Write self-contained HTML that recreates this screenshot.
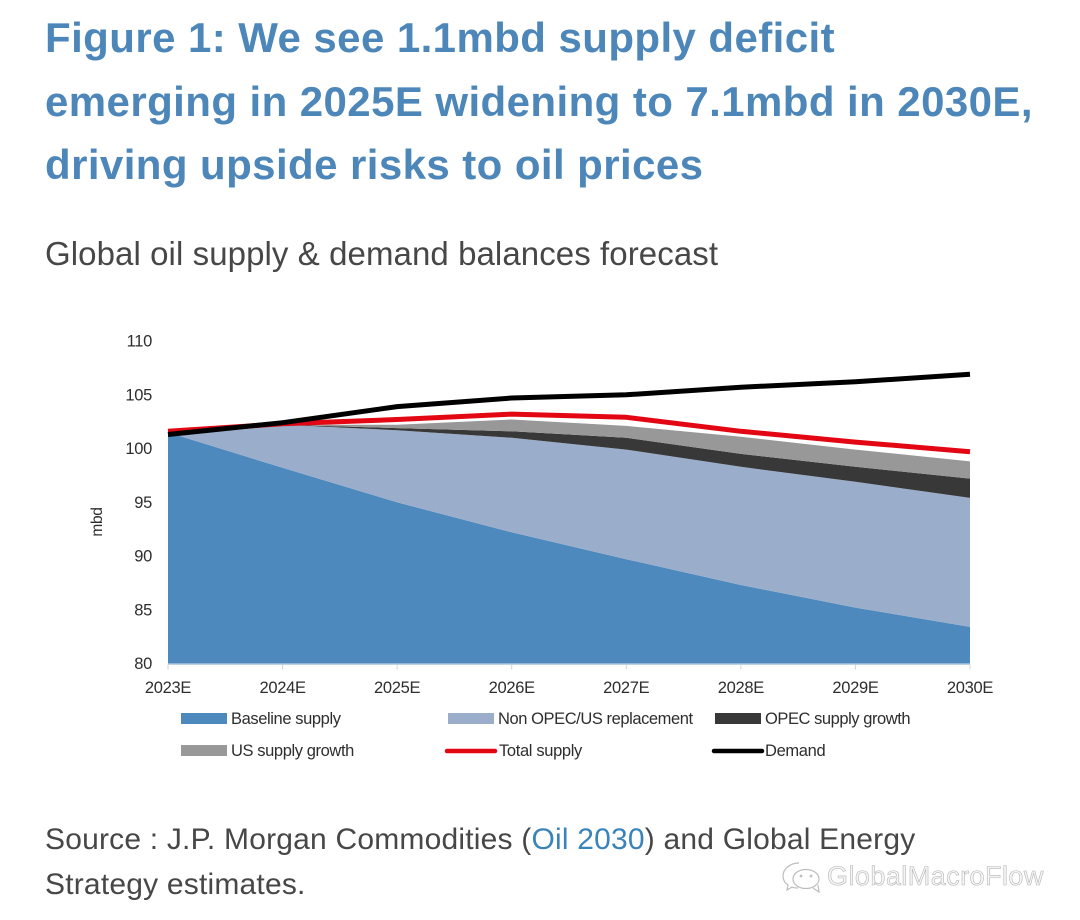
<!DOCTYPE html>
<html lang="en">
<head>
<meta charset="utf-8">
<title>Global oil supply and demand balances forecast</title>
<style>
html,body{margin:0;padding:0;background:#fff;}
#stage{position:relative;width:1080px;height:920px;overflow:hidden;background:#fff;font-family:"Liberation Sans",Arial,sans-serif;}
.t{position:absolute;white-space:nowrap;margin:0;}
.title{left:45px;font-size:42px;font-weight:bold;color:#4d86b8;letter-spacing:.42px;line-height:48px;}
.sub{left:45px;font-size:33px;color:#474747;letter-spacing:.08px;line-height:38px;font-weight:normal;}
.body{left:45px;font-size:30px;color:#474747;letter-spacing:.2px;line-height:38px;font-weight:normal;}
.body a{color:#3b84b9;text-decoration:none;}
svg{position:absolute;left:0;top:0;}
svg text{font-family:"Liberation Sans",Arial,sans-serif;fill:#2e2e2e;}
</style>
</head>
<body>
<div id="stage">
  <h1 class="t title" style="top:14px">Figure 1: We see 1.1mbd supply deficit</h1>
  <h1 class="t title" style="top:78px">emerging in 2025E widening to 7.1mbd in 2030E,</h1>
  <h1 class="t title" style="top:141px">driving upside risks to oil prices</h1>
  <h2 class="t sub" style="top:235px">Global oil supply &amp; demand balances forecast</h2>
  <svg id="chart" width="1080" height="920" viewBox="0 0 1080 920"></svg>
  <p class="t body" style="top:821px">Source : J.P. Morgan Commodities (<a href="#">Oil 2030</a>) and Global Energy</p>
  <p class="t body" style="top:866px">Strategy estimates.</p>
  <svg width="1080" height="920" viewBox="0 0 1080 920" style="pointer-events:none">
    <g fill="none" stroke="#bdbdbd" stroke-width="1.2">
      <path d="M799 863c-9 0-16 6-16 13 0 4 2 7 5 9l-1 5 5-3c2 1 4 1 6 1"/>
      <ellipse cx="806" cy="879" rx="13" ry="9.5"/>
      <path d="M813 888l6 4-1-7"/>
      <circle cx="801" cy="876" r=".8"/>
      <circle cx="811" cy="876" r=".8"/>
    </g>
    <text x="827" y="885" font-size="27" letter-spacing=".45" style="font-family:'Liberation Sans',Arial,sans-serif;fill:#f6f6f6;stroke:#b5b5b5;stroke-width:.6px">GlobalMacroFlow</text>
  </svg>
</div>
<script>
var categories = ['2023E','2024E','2025E','2026E','2027E','2028E','2029E','2030E'];
var yTicks = [80,85,90,95,100,105,110];
var baselineSupply = [101.5,98.2,95.0,92.2,89.7,87.3,85.2,83.4];
var nonOpecReplacement = [0,4.0,6.7,8.8,10.2,11.0,11.7,12.0];
var opecGrowth = [0,0,0.2,0.6,1.1,1.2,1.4,1.8];
var usGrowth = [0,0,0.3,1.1,1.1,1.6,1.6,1.6];
var totalSupply = [101.6,102.3,102.7,103.2,102.9,101.6,100.6,99.7];
var demand = [101.3,102.4,103.9,104.7,105.0,105.7,106.2,106.9];

var NS = 'http://www.w3.org/2000/svg';
var svg = document.getElementById('chart');
var X0 = 168, X1 = 970, Y80 = 663.5, Y110 = 341;
function xScale(i){ return X0 + (X1 - X0) * i / (categories.length - 1); }
function yScale(v){ return Y80 - (v - 80) * (Y80 - Y110) / 30; }
function mk(tag, attrs, parent){
  var el = document.createElementNS(NS, tag);
  for (var k in attrs) el.setAttribute(k, attrs[k]);
  (parent || svg).appendChild(el);
  return el;
}
function linePts(vals){
  return vals.map(function(v,i){ return xScale(i).toFixed(1) + ',' + yScale(v).toFixed(1); });
}
function cumulate(a,b){ return a.map(function(v,i){ return v + b[i]; }); }

var lvl1 = baselineSupply;
var lvl2 = cumulate(lvl1, nonOpecReplacement);
var lvl3 = cumulate(lvl2, opecGrowth);
var lvl4 = cumulate(lvl3, usGrowth);
function band(lower, upper){
  return linePts(upper).concat(linePts(lower).reverse()).join(' ');
}
var floorVals = categories.map(function(){ return 80; });

var a1 = mk('polygon',{points:band(floorVals,lvl1),fill:'#4e89bd'});


var a2 = mk('polygon',{points:band(lvl1,lvl2),fill:'#9aaecb'});


var a3 = mk('polygon',{points:band(lvl2,lvl3),fill:'#383838'});


var a4 = mk('polygon',{points:band(lvl3,lvl4),fill:'#989898'});



var axis = mk('line',{x1:X0,x2:X1,y1:Y80+.5,y2:Y80+.5,stroke:'#a9c3dc','stroke-width':1.5});



var totalLine = mk('polyline',{points:linePts(totalSupply).join(' '),fill:'none',stroke:'#e30613','stroke-width':5,'stroke-linejoin':'round'});


var demandLine = mk('polyline',{points:linePts(demand).join(' '),fill:'none',stroke:'#000','stroke-width':5,'stroke-linejoin':'round'});



categories.forEach(function(c,i){
  var tick = mk('line',{x1:xScale(i),x2:xScale(i),y1:Y80+1,y2:Y80+6,stroke:'#d4d4d4','stroke-width':1});
  
  
  var lb = mk('text',{x:xScale(i),y:693,'font-size':16.5,'text-anchor':'middle','letter-spacing':'-.3'});
  lb.textContent = c;
  
  
});
yTicks.forEach(function(v){
  var lb = mk('text',{x:152,y:yScale(v)+5.5,'font-size':16.5,'text-anchor':'end','letter-spacing':'-.3'});
  lb.textContent = v;
  
  
});
var yTitle = mk('text',{transform:'translate(102 522) rotate(-90)','font-size':15.5,'text-anchor':'middle','letter-spacing':'-.3'});
yTitle.textContent = 'mbd';



var legendG = mk('g',{});



var s1 = mk('rect',{x:181,y:713,width:46,height:11,fill:'#4e89bd'},legendG);


var t1 = mk('text',{x:231,y:724,'font-size':16.5,'letter-spacing':'-.4'},legendG);
t1.textContent = 'Baseline supply';



var s2 = mk('rect',{x:448,y:713,width:46,height:11,fill:'#9aaecb'},legendG);


var t2 = mk('text',{x:498,y:724,'font-size':16.5,'letter-spacing':'-.43'},legendG);
t2.textContent = 'Non OPEC/US replacement';



var s3 = mk('rect',{x:715,y:713,width:46,height:11,fill:'#383838'},legendG);


var t3 = mk('text',{x:765,y:724,'font-size':16.5,'letter-spacing':'-.45'},legendG);
t3.textContent = 'OPEC supply growth';



var s4 = mk('rect',{x:181,y:745,width:46,height:11,fill:'#989898'},legendG);


var t4 = mk('text',{x:231,y:756,'font-size':16.5,'letter-spacing':'-.4'},legendG);
t4.textContent = 'US supply growth';



var s5 = mk('line',{x1:447,x2:495,y1:751,y2:751,stroke:'#e30613','stroke-width':4.5,'stroke-linecap':'round'},legendG);


var t5 = mk('text',{x:499,y:756,'font-size':16.5,'letter-spacing':'-.35'},legendG);
t5.textContent = 'Total supply';



var s6 = mk('line',{x1:714,x2:762,y1:751,y2:751,stroke:'#000','stroke-width':4.5,'stroke-linecap':'round'},legendG);


var t6 = mk('text',{x:765,y:756,'font-size':16.5,'letter-spacing':'-.35'},legendG);
t6.textContent = 'Demand';


</script>
</body>
</html>
